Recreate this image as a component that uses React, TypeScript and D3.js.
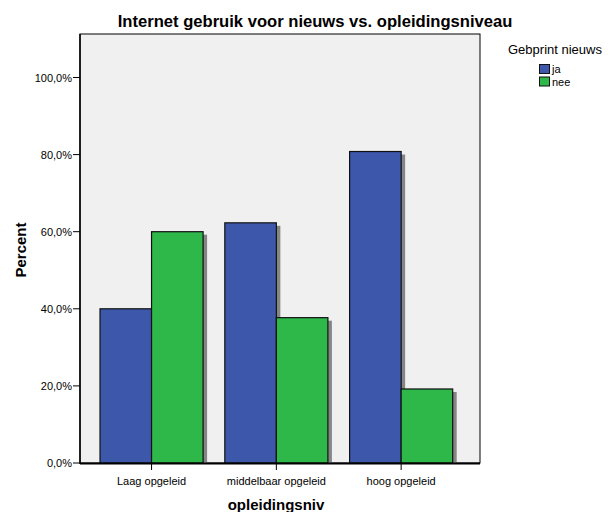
import React from "react";
import * as d3 from "d3";

const categories = ["Laag opgeleid", "middelbaar opgeleid", "hoog opgeleid"];
const seriesNames = ["ja", "nee"];
const jaValues = [40.0, 62.3, 80.8];
const neeValues = [60.0, 37.7, 19.2];
const yTicks = [0, 20, 40, 60, 80, 100];
const colors = ["#3d58ab", "#2eb84a"];

const W = 613;
const H = 512;
const frame = { left: 80, top: 34, right: 480, bottom: 463 };

export default function App() {
  const y = d3.scaleLinear().domain([0, 100]).range([463, 77.5]);
  const x = d3
    .scaleBand<string>()
    .domain(categories)
    .range([89.15, 463.55])
    .paddingInner(0.174)
    .paddingOuter(0.087);
  const xs = d3.scaleBand<string>().domain(seriesNames).range([0, x.bandwidth()]);
  const fmt = (v: number) => v.toFixed(1).replace(".", ",") + "%";
  const series = [jaValues, neeValues];
  const font = "'Liberation Sans', Arial, sans-serif";

  return (
    <svg
      width={W}
      height={H}
      style={{ position: "absolute", left: 0, top: 0 }}
      fontFamily={font}
    >
      <rect x={0} y={0} width={W} height={H} fill="#fff" />
      <text x={315} y={27} textAnchor="middle" fontSize={16.6} fontWeight="bold" fill="#000">
        Internet gebruik voor nieuws vs. opleidingsniveau
      </text>
      <rect
        x={frame.left}
        y={frame.top}
        width={frame.right - frame.left}
        height={frame.bottom - frame.top}
        fill="#f0f0f0"
        stroke="#000"
        strokeWidth={1}
      />
      {/* shadows */}
      {categories.map((c, i) =>
        seriesNames.map((s, j) => {
          const v = series[j][i];
          const bx = (x(c) as number) + (xs(s) as number);
          return (
            <rect
              key={"sh" + c + s}
              x={bx + 4}
              y={y(v) + 3}
              width={xs.bandwidth()}
              height={y(0) - y(v) - 3}
              fill="#858585"
            />
          );
        })
      )}
      {categories.map((c, i) =>
        seriesNames.map((s, j) => {
          const v = series[j][i];
          const bx = (x(c) as number) + (xs(s) as number);
          return (
            <rect
              key={"b" + c + s}
              x={bx}
              y={y(v)}
              width={xs.bandwidth()}
              height={y(0) - y(v)}
              fill={colors[j]}
              stroke="#111"
              strokeWidth={1.2}
            />
          );
        })
      )}
      {/* y axis */}
      <line x1={frame.left} x2={frame.left} y1={frame.top} y2={frame.bottom + 1} stroke="#000" strokeWidth={1.5} />
      {yTicks.map((t) => (
        <g key={t}>
          <line x1={frame.left - 7} x2={frame.left} y1={y(t)} y2={y(t)} stroke="#000" strokeWidth={1} />
          <text x={frame.left - 8} y={y(t) + 4} textAnchor="end" fontSize={11} fill="#000">
            {fmt(t)}
          </text>
        </g>
      ))}
      {/* x axis */}
      <line x1={frame.left} x2={frame.right} y1={frame.bottom + 0.5} y2={frame.bottom + 0.5} stroke="#000" strokeWidth={2} />
      {categories.map((c) => {
        const cx = (x(c) as number) + x.bandwidth() / 2;
        return (
          <g key={"xt" + c}>
            <line x1={cx} x2={cx} y1={frame.bottom} y2={frame.bottom + 7} stroke="#000" strokeWidth={1} />
            <text x={cx} y={485} textAnchor="middle" fontSize={11} fill="#000">
              {c}
            </text>
          </g>
        );
      })}
      <text x={276} y={510} textAnchor="middle" fontSize={15} fontWeight="bold" fill="#000">
        opleidingsniv
      </text>
      <text
        transform={`translate(26,250) rotate(-90)`}
        textAnchor="middle"
        fontSize={15}
        fontWeight="bold"
        fill="#000"
      >
        Percent
      </text>
      {/* legend */}
      <text x={508} y={54} fontSize={13} fill="#000">
        Gebprint nieuws
      </text>
      {seriesNames.map((s, j) => (
        <g key={"lg" + s}>
          <rect x={539.5} y={64.5 + j * 12.5} width={10} height={9} fill={colors[j]} stroke="#111" strokeWidth={1} />
          <text x={552} y={73 + j * 12.5} fontSize={11} fill="#000">
            {s}
          </text>
        </g>
      ))}
    </svg>
  );
}
